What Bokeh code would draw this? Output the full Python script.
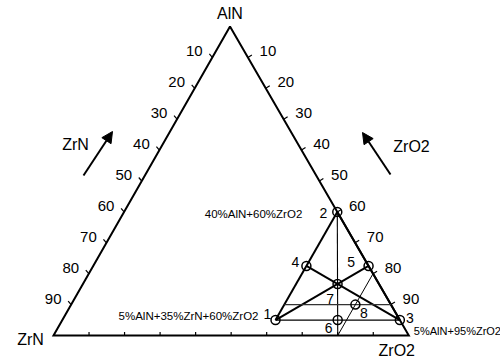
from bokeh.plotting import figure
from bokeh.models import Range1d, Arrow, NormalHead, ColumnDataSource
from bokeh.core.properties import value
from bokeh.embed import file_html
from bokeh.resources import INLINE

# ---------------- data (compositions as fractions AlN, ZrN, ZrO2) ----------------
vertex_names = ["AlN", "ZrN", "ZrO2"]
tick_values = [10, 20, 30, 40, 50, 60, 70, 80, 90]
point_labels = ["1", "2", "3", "4", "5", "6", "7", "8"]
point_aln = [0.05, 0.40, 0.05, 0.225, 0.225, 0.05, 1/6, 0.10]
point_zrn = [0.35, 0.00, 0.00, 0.175, 0.000, 0.175, 0.35/3, 0.10]
point_zro2 = [0.60, 0.60, 0.95, 0.600, 0.775, 0.775, 2.15/3, 0.80]
annotations = ["40%AlN+60%ZrO2", "5%AlN+35%ZrN+60%ZrO2", "5%AlN+95%ZrO2"]
annot_point = [1, 0, 2]  # index of the composition point each note refers to

# ---------------- geometry / layout (screen pixels of the picture) ----------------
A = (229.5, 26.0)   # AlN apex
B = (53.0, 335.0)   # ZrN corner
C = (408.3, 335.0)  # ZrO2 corner
W, H = 500, 362

def tern(a, b, c):
    sx = a * A[0] + b * B[0] + c * C[0]
    sy = a * A[1] + b * B[1] + c * C[1]
    return sx, H - sy

def scr(sx, sy):
    return sx, H - sy

FONT = value("Liberation Sans")

p = figure(width=W, height=H, output_backend="svg", toolbar_location=None,
           x_range=Range1d(0, W), y_range=Range1d(0, H), min_border=0)
p.axis.visible = False
p.grid.visible = False
p.outline_line_color = None
p.background_fill_color = "white"

def seg(p1, p2, lw=2.0, color="black"):
    p.line([p1[0], p2[0]], [p1[1], p2[1]], line_width=lw, line_color=color)

# outer triangle
pa, pb, pc = tern(1, 0, 0), tern(0, 1, 0), tern(0, 0, 1)
p.line([pa[0], pb[0], pc[0], pa[0]], [pa[1], pb[1], pc[1], pa[1]],
       line_width=2, line_color="black", line_join="miter")

# ticks and tick labels
for t in tick_values:
    f = t / 100
    # left edge (ZrN scale)
    x, y = tern(1 - f, f, 0)
    seg((x, y), (x - 3, y + 3.5), lw=1.2)
    p.text([x - 18], [y + 6], text=[str(t)], text_font=FONT, text_font_size="15px",
           text_align="center", text_baseline="middle")
    # right edge (ZrO2 scale)
    x, y = tern(1 - f, 0, f)
    seg((x, y), (x + 4, y + 2.5), lw=1.2)
    p.text([x + 20], [y + 6], text=[str(t)], text_font=FONT, text_font_size="15px",
           text_align="center", text_baseline="middle")
    # bottom edge
    x, y = tern(0, 1 - f, f)
    seg((x, y), (x, y + 3.5), lw=1.2)

# vertex labels
vx_off = [(0, -13), (-23, 4), (-12, 14.5)]
for name, (a, b, c), (dx, dy) in zip(vertex_names, [(1, 0, 0), (0, 1, 0), (0, 0, 1)], vx_off):
    x, y = tern(a, b, c)
    p.text([x + dx], [y - dy], text=[name], text_font=FONT, text_font_size="16px",
           text_align="center", text_baseline="middle")

# side titles and arrows
for name, (sx, sy) in zip(["ZrN", "ZrO2"], [(75, 144), (411, 146)]):
    x, y = scr(sx, sy)
    p.text([x], [y], text=[name], text_font=FONT, text_font_size="16px",
           text_align="center", text_baseline="middle")
for (s0, s1) in [((83, 175), (112, 131)), ((390, 174), (362, 132))]:
    x0, y0 = scr(*s0)
    x1, y1 = scr(*s1)
    p.add_layout(Arrow(x_start=x0, y_start=y0, x_end=x1, y_end=y1, line_width=2,
                       end=NormalHead(size=11, fill_color="black", line_color="black")))

pts = [tern(a, b, c) for a, b, c in zip(point_aln, point_zrn, point_zro2)]
P1, P2, P3, P4, P5, P6, P7, P8 = pts

# inner triangle and medians
seg(P1, P2, lw=2)
seg(P2, P3, lw=2)
seg(P1, P3, lw=1.3)
seg(P1, P5, lw=2)
seg(P3, P4, lw=2)
seg(P2, tern(0, 0.2, 0.8), lw=1.1)
# guide lines
seg(tern(0.1, 0.3, 0.6), tern(0.1, 0, 0.9), lw=1.3, color="#333333")
seg(tern(0, 0.2, 0.8), tern(0.2, 0, 0.8), lw=1.0)

# composition points
src = ColumnDataSource(dict(x=[q[0] for q in pts], y=[q[1] for q in pts], label=point_labels))
p.scatter("x", "y", source=src, marker="circle", size=9, fill_color=None,
          line_color="black", line_width=1.5)

lab_off = [(-8, -6.5), (-14, 1.5), (10, -2), (-11, -3.5), (-17.5, -3.5), (-9, 7.5), (-7.5, 14.5), (8.5, 8)]
for lab, (x, y), (dx, dy) in zip(point_labels, pts, lab_off):
    p.text([x + dx], [y - dy], text=[lab], text_font=FONT, text_font_size="14px",
           text_align="center", text_baseline="middle")

# composition notes
note_off = [(-35, 2.5, "right", "11.5px"), (-17, -4.5, "right", "11.5px"), (14, 11, "left", "11px")]
for txt, idx, (dx, dy, al, fs) in zip(annotations, annot_point, note_off):
    x, y = pts[idx]
    p.text([x + dx], [y - dy], text=[txt], text_font=FONT, text_font_size=fs,
           text_align=al, text_baseline="middle")

open("out.html", "w").write(file_html(p, INLINE))
